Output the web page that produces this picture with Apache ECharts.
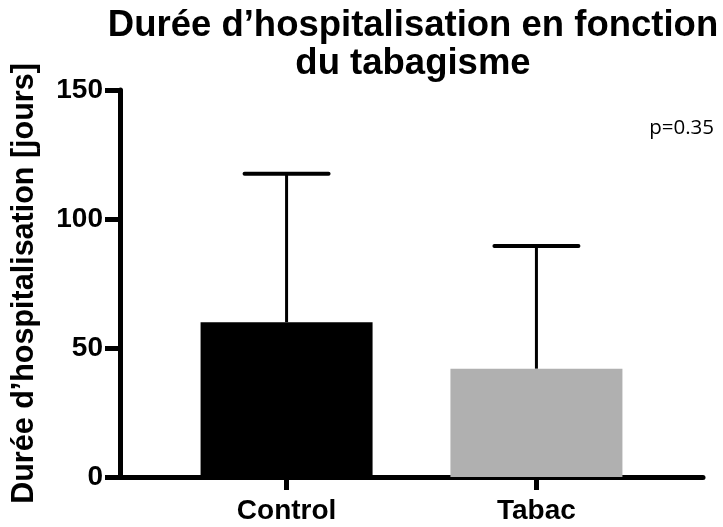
<!DOCTYPE html>
<html lang="fr">
<head>
<meta charset="UTF-8">
<title>Durée d'hospitalisation</title>
<script src="https://cdn.jsdelivr.net/npm/echarts@6/dist/echarts.min.js"></script>
<style>
  html, body { margin: 0; padding: 0; background: #fff; }
  #chart { width: 723px; height: 527px; }
</style>
</head>
<body>
<div id="chart"></div>
<script>
// values
const categories = ['Control', 'Tabac'];
const means = [60, 42];
const upper = [117.5, 89.5];        // top of the error bar (mean + SD)
const barColors = ['#000000', '#b0b0b0'];
const yTicks = [0, 50, 100, 150];
const pText = 'p=0.35';

// bars sit at 1 and 2.5 on a 0..3.5 x range (two groups with wide margins)
const xPos = categories.map((c, i) => 1 + 1.5 * i);

const font = '"Liberation Sans", Arial, sans-serif';

const chart = echarts.init(document.getElementById('chart'));

chart.setOption({
  animation: false,
  title: [
    {
      text: 'Durée d\u2019hospitalisation en fonction\ndu tabagisme',
      left: 408,
      top: 2,
      textAlign: 'center',
      textStyle: { fontFamily: font, fontWeight: 'bold', fontSize: 36.5, lineHeight: 38, color: '#000' }
    },
    {
      text: pText,
      right: 4,
      top: 113,
      textStyle: { fontFamily: '"Open Sans", sans-serif', fontWeight: 'normal', fontSize: 20.5, color: '#000' }
    }
  ],
  grid: { left: 120, right: 20, top: 90, bottom: 50, outerBoundsMode: 'none' },
  xAxis: {
    type: 'value',
    min: 0,
    max: 3.5,
    splitLine: { show: false },
    axisLine: { show: true, lineStyle: { color: '#000', width: 5 } },
    axisTick: { show: true, customValues: xPos, length: 13, lineStyle: { color: '#000', width: 5 } },
    axisLabel: {
      customValues: xPos,
      margin: 20,
      formatter: v => categories[xPos.indexOf(v)] || '',
      fontFamily: font, fontWeight: 'bold', fontSize: 28, color: '#000'
    }
  },
  yAxis: {
    type: 'value',
    min: yTicks[0],
    max: yTicks[yTicks.length - 1],
    interval: 50,
    name: 'Durée d\u2019hospitalisation [jours]',
    nameLocation: 'middle',
    nameGap: 80,
    nameTextStyle: { fontFamily: font, fontWeight: 'bold', fontSize: 30.5, color: '#000' },
    splitLine: { show: false },
    axisLine: { show: true, lineStyle: { color: '#000', width: 5 } },
    axisTick: { show: true, length: 15, lineStyle: { color: '#000', width: 5 } },
    axisLabel: { margin: 17, fontFamily: font, fontWeight: 'bold', fontSize: 28, color: '#000' }
  },
  series: [
    {
      type: 'bar',
      barWidth: 172,
      data: means.map((m, i) => ({ value: [xPos[i], m], itemStyle: { color: barColors[i] } })),
      z: 2
    },
    {
      type: 'custom',
      z: 3,
      data: means.map((m, i) => [xPos[i], m, upper[i]]),
      renderItem: function (params, api) {
        const base = api.coord([api.value(0), api.value(1)]);
        const top = api.coord([api.value(0), api.value(2)]);
        const half = 42;
        return {
          type: 'group',
          children: [
            {
              type: 'line',
              shape: { x1: base[0], y1: base[1], x2: top[0], y2: top[1] },
              style: { stroke: '#000', lineWidth: 3 }
            },
            {
              type: 'line',
              shape: { x1: top[0] - half, y1: top[1], x2: top[0] + half, y2: top[1] },
              style: { stroke: '#000', lineWidth: 4, lineCap: 'round' }
            }
          ]
        };
      }
    }
  ]
});
</script>
</body>
</html>
